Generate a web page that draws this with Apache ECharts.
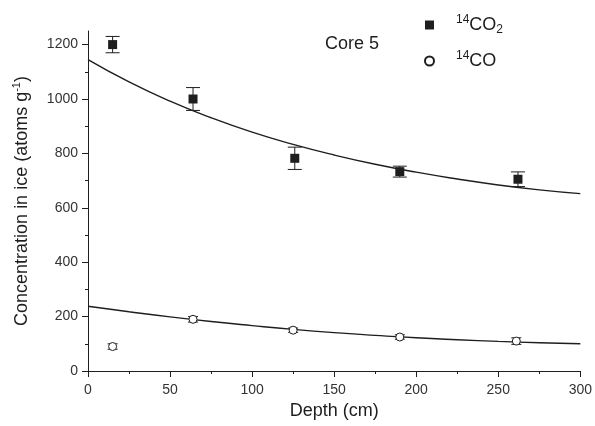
<!DOCTYPE html>
<html>
<head>
<meta charset="utf-8">
<script src="https://cdn.jsdelivr.net/npm/echarts@6/dist/echarts.min.js"></script>
<style>html,body{margin:0;padding:0;background:#fff}#c{width:595px;height:426px}</style>
</head>
<body>
<div id="c"></div>
<script>
// Measured points (depth cm, concentration atoms/g, error)
const depthCO2 = [15, 64, 126, 190, 262];
const concCO2 = [1200, 1000, 782, 733, 705];
const errCO2 = [30, 42, 41, 20, 27];
const depthCO = [15, 64, 125, 190, 261];
const concCO = [90, 190, 150, 125, 110];
const errCO = [10, 10, 8, 8, 12];
// Fitted curves
const fitDepth = [0, 25, 50, 75, 100, 125, 150, 175, 200, 225, 250, 275, 300];
const fitCO2 = [1145, 1063, 992, 931, 878, 833, 794, 760, 731, 706, 684, 666, 652];
const fitCO = [238, 218, 199, 182, 167, 153, 141, 131, 122, 115, 109, 104, 100];
const yTicks = [0, 200, 400, 600, 800, 1000, 1200];
const yMinor = [100, 300, 500, 700, 900, 1100];

const ink = '#1e1e1e';
const font = 'Liberation Sans, Arial, sans-serif';

function zip(xs, ys, es) { return xs.map((x, i) => es ? [x, ys[i], es[i]] : [x, ys[i]]); }

function errRender(cap) {
  return function (params, api) {
    const x = api.value(0), y = api.value(1), e = api.value(2);
    const top = api.coord([x, y + e]);
    const bot = api.coord([x, y - e]);
    const st = { stroke: ink, lineWidth: 1 };
    return {
      type: 'group',
      children: [
        { type: 'line', shape: { x1: top[0], y1: top[1], x2: bot[0], y2: bot[1] }, style: st },
        { type: 'line', shape: { x1: top[0] - cap, y1: top[1], x2: top[0] + cap, y2: top[1] }, style: st },
        { type: 'line', shape: { x1: bot[0] - cap, y1: bot[1], x2: bot[0] + cap, y2: bot[1] }, style: st }
      ]
    };
  };
}

const chart = echarts.init(document.getElementById('c'), null, { renderer: 'canvas' });
const supRich = {
  sup: { fontSize: 12, fontFamily: font, color: ink, verticalAlign: 'top', lineHeight: 22 },
  sub: { fontSize: 12, fontFamily: font, color: ink, verticalAlign: 'bottom', lineHeight: 22 },
  main: { fontSize: 18, fontFamily: font, color: ink, lineHeight: 22 },
  sp: { width: 17 }
};
chart.setOption({
  animation: false,
  backgroundColor: '#fff',
  textStyle: { fontFamily: font },
  title: {
    text: 'Core 5', left: 320, top: 30,
    textStyle: { fontSize: 18, fontWeight: 'normal', color: ink, fontFamily: font }
  },
  legend: {
    orient: 'vertical', left: 419, top: 9, itemGap: 14,
    itemWidth: 9, itemHeight: 9,
    data: [
      { name: '14CO2', icon: 'rect' },
      { name: '14CO', icon: 'circle' }
    ],
    formatter: function (n) {
      return n === '14CO2' ? '{sp|}{sup|14}{main|CO}{sub|2}' : '{sp|}{sup|14}{main|CO}';
    },
    textStyle: { rich: supRich, color: ink, fontFamily: font }
  },
  grid: { left: 88, right: 11, top: 31, bottom: 55, containLabel: false },
  xAxis: [{
    type: 'value', min: 0, max: 300, interval: 50,
    name: 'Depth (cm)', nameLocation: 'middle', nameGap: 31,
    nameTextStyle: { fontSize: 18, color: ink, fontFamily: font },
    axisLine: { lineStyle: { color: ink, width: 1 } },
    axisTick: { show: true, length: 6, lineStyle: { color: ink } },
    minorTick: { show: true, splitNumber: 2, length: 3, lineStyle: { color: ink } },
    axisLabel: { fontSize: 14, color: '#333', margin: 12, fontFamily: font },
    splitLine: { show: false }
  }],
  yAxis: [{
    type: 'value', min: 0, max: 1250, interval: 200,
    name: 'Concentration in ice (atoms g{sup|-1})', nameLocation: 'middle', nameGap: 55, nameRotate: 90,
    nameTextStyle: {
      fontSize: 18, color: ink, fontFamily: font,
      rich: { sup: { fontSize: 11, verticalAlign: 'top', lineHeight: 22, fontFamily: font, color: ink } }
    },
    axisLine: { show: true, lineStyle: { color: ink, width: 1 } },
    axisTick: { show: true, length: 6, lineStyle: { color: ink }, customValues: yTicks },
    axisLabel: {
      fontSize: 14, color: '#333', margin: 10, fontFamily: font, customValues: yTicks,
      formatter: function (v) { return String(v); }
    },
    splitLine: { show: false }
  }, {
    type: 'value', min: 0, max: 1250, position: 'left',
    axisLine: { show: false },
    axisTick: { show: true, length: 3, lineStyle: { color: ink }, customValues: yMinor },
    axisLabel: { show: false },
    splitLine: { show: false }
  }],
  series: [
    {
      name: 'fitCO2', type: 'line', data: zip(fitDepth, fitCO2), smooth: true, showSymbol: false,
      lineStyle: { color: ink, width: 1.4 }, silent: true, z: 2
    },
    {
      name: 'fitCO', type: 'line', data: zip(fitDepth, fitCO), smooth: true, showSymbol: false,
      lineStyle: { color: ink, width: 1.4 }, silent: true, z: 2
    },
    {
      name: 'errCO2', type: 'custom', renderItem: errRender(7), data: zip(depthCO2, concCO2, errCO2), z: 3
    },
    {
      name: 'errCO', type: 'custom', renderItem: errRender(5), data: zip(depthCO, concCO, errCO), z: 3
    },
    {
      name: '14CO2', type: 'scatter', symbol: 'rect', symbolSize: 9,
      data: zip(depthCO2, concCO2), itemStyle: { color: ink, opacity: 1 }, z: 4
    },
    {
      name: '14CO', type: 'scatter', symbol: 'circle', symbolSize: 8,
      data: zip(depthCO, concCO), itemStyle: { color: '#fff', borderColor: ink, borderWidth: 1, opacity: 1 }, z: 4
    }
  ]
});
</script>
</body>
</html>
